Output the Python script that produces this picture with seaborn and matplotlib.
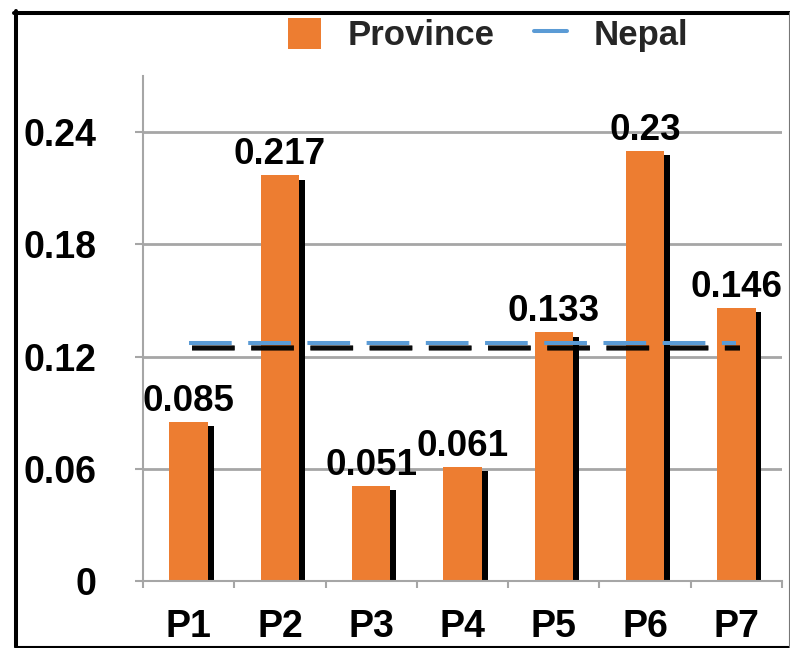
import matplotlib
matplotlib.use("Agg")
import matplotlib.pyplot as plt
import seaborn as sns
import numpy as np
import pandas as pd
from matplotlib import patheffects as pe
from matplotlib.lines import Line2D
from matplotlib.patches import Patch
from matplotlib.ticker import FixedLocator

# ---- data ----
categories = ["P1", "P2", "P3", "P4", "P5", "P6", "P7"]
province = [0.085, 0.217, 0.051, 0.061, 0.133, 0.23, 0.146]
nepal = 0.127
yticks = [0, 0.06, 0.12, 0.18, 0.24]
ytick_labels = ["0", "0.06", "0.12", "0.18", "0.24"]
series_names = ["Province", "Nepal"]

ORANGE = "#ED7D31"
BLUE = "#5B9BD5"
GRID = "#a6a6a6"
FS = 27

sns.set_theme(style="white")
plt.rcParams['font.family'] = ['Liberation Sans', 'DejaVu Sans']
plt.rcParams['font.weight'] = 'bold'

W, H = 790, 648
fig = plt.figure(figsize=(W / 100, H / 100), dpi=100)
ax = fig.add_axes([143 / W, 1 - 581 / H, (782 - 143) / W, (581 - 76) / H])

df = pd.DataFrame({"cat": categories, "val": province})
sns.barplot(data=df, x="cat", y="val", color=ORANGE, saturation=1, width=0.42,
            ax=ax, zorder=2)
for p in ax.patches:
    p.set_edgecolor('none')
    p.set_path_effects([pe.SimplePatchShadow(offset=(4.3, -3.2), shadow_rgbFace='black', alpha=1),
                        pe.Normal()])

ax.bar_label(ax.containers[0], labels=[f"{v:g}" for v in province], padding=2,
             fontsize=FS - 0.5, fontweight='bold', color='black')

xs = np.arange(len(categories))
ax.plot(xs, [nepal] * len(xs), color=BLUE, lw=2.9, linestyle=(0, (10.6, 4.1)),
        dash_capstyle='butt', zorder=4,
        path_effects=[pe.SimpleLineShadow(offset=(2.5, -3), shadow_color='black', alpha=0.6,
                                          linewidth=4.2),
                      pe.SimpleLineShadow(offset=(2.5, -3), shadow_color='black', alpha=0.9),
                      pe.Normal()])

ax.set_xlim(-0.5, len(categories) - 0.5)
ax.set_ylim(0, 0.27)
ax.set_yticks(yticks)
ax.set_yticklabels(ytick_labels)
ax.set_xticks(xs)
ax.set_xticklabels(categories)
ax.xaxis.set_minor_locator(FixedLocator(np.arange(len(categories) + 1) - 0.5))
ax.set_xlabel("")
ax.set_ylabel("")

ax.yaxis.grid(True, color=GRID, lw=2)
ax.set_axisbelow(True)
for s in ["top", "right"]:
    ax.spines[s].set_visible(False)
for s in ["left", "bottom"]:
    ax.spines[s].set_color(GRID)
    ax.spines[s].set_linewidth(1.5)

ax.tick_params(axis='y', left=True, length=5.8, width=1.5, color=GRID, direction='out',
               pad=28, labelsize=FS, labelcolor='black')
ax.tick_params(axis='x', which='major', bottom=True, length=0, pad=20, labelsize=FS,
               labelcolor='black')
ax.tick_params(axis='x', which='minor', bottom=True, length=5, width=1.5, color=GRID,
               direction='out')
for t in ax.get_xticklabels() + ax.get_yticklabels():
    t.set_fontweight('bold')

handles = [Patch(facecolor=ORANGE, edgecolor='none'),
           Line2D([0], [0], color=BLUE, lw=2.9)]
fig.legend(handles, series_names, loc='center', bbox_to_anchor=(0.618, 0.946), ncol=2,
           frameon=False, prop={'weight': 'bold', 'size': 25}, handlelength=0.95,
           handleheight=1.0, handletextpad=0.78, columnspacing=1.12)

# outer border
tf = fig.transFigure
fig.add_artist(Line2D([16 / W, 16 / W], [1 - 10.5 / H, 1 - 647 / H], transform=tf,
                      color='black', lw=2.9))
fig.add_artist(Line2D([14 / W, 1], [1 - 12.5 / H, 1 - 12.5 / H], transform=tf,
                      color='black', lw=2.9))
fig.add_artist(Line2D([16 / W, 1], [1 - 646.5 / H, 1 - 646.5 / H], transform=tf,
                      color='black', lw=1.5))
fig.add_artist(Line2D([788.5 / W, 788.5 / W], [1 - 12 / H, 1 - 647 / H], transform=tf,
                      color='#777777', lw=0.8))

fig.savefig("out.png", dpi=100)
